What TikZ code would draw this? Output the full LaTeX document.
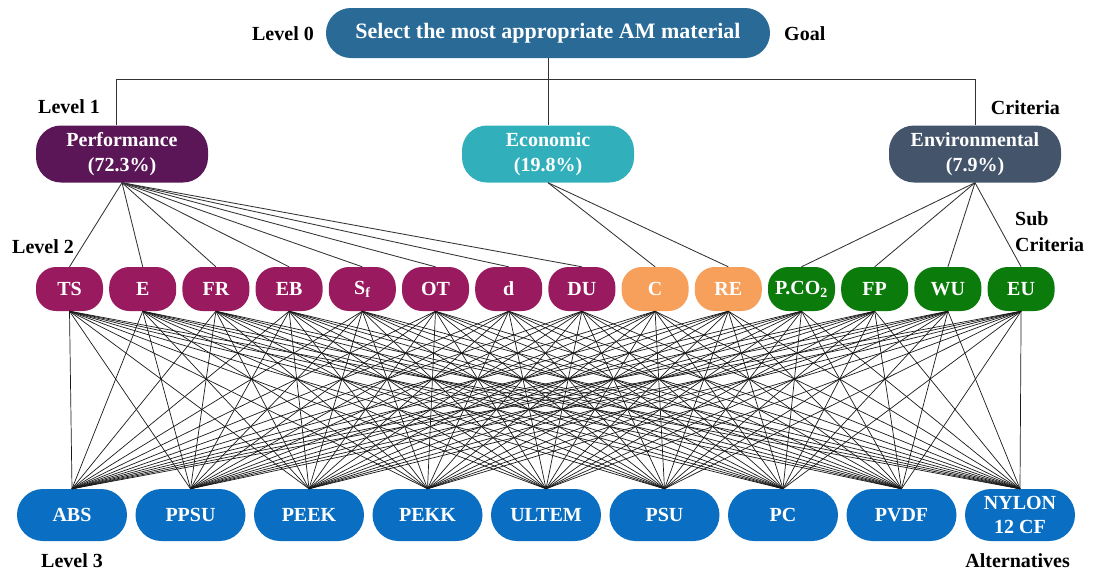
\documentclass[tikz,border=0pt]{standalone}
\usepackage{fontspec}
\setmainfont{Liberation Serif}
\definecolor{goalblue}{HTML}{2A6A97}
\definecolor{perfpurple}{HTML}{5B1657}
\definecolor{econteal}{HTML}{31B0BC}
\definecolor{envslate}{HTML}{44546A}
\definecolor{subpurple}{HTML}{991A5E}
\definecolor{suborange}{HTML}{F6A05C}
\definecolor{subgreen}{HTML}{0B7B0B}
\definecolor{altblue}{HTML}{0A6FC2}
\begin{document}
\begin{tikzpicture}[x=1pt,y=-1pt,
  box/.style={fill=#1, text=white, font=\bfseries\fontsize{20}{25}\selectfont, inner sep=0pt, align=center},
  crit/.style={box=#1, minimum width=172pt, minimum height=57pt, rounded corners=25pt},
  subnode/.style={box=#1, minimum width=67pt, minimum height=44pt, rounded corners=20pt},
  altnode/.style={box=altblue, minimum width=110pt, minimum height=52pt, rounded corners=25.9pt, font=\bfseries\fontsize{20}{24}\selectfont},
  lbl/.style={font=\bfseries\fontsize{20}{26}\selectfont, inner sep=0pt, align=left},
  conn/.style={draw=black!80, line width=0.85pt},
  mesh/.style={draw=black!90, line width=0.7pt}]
\useasboundingbox (0,0) rectangle (1095,571);

% Level 0
\node[box=goalblue, minimum width=444pt, minimum height=50pt, rounded corners=24.9pt,
      font=\bfseries\fontsize{22}{26}\selectfont] (goal) at (548,33) {Select the most appropriate AM material};

% Level 1
\node[crit=perfpurple] (perf) at (122,154) {Performance\\(72.3\%)};
\node[crit=econteal] (econ) at (548,154) {Economic\\(19.8\%)};
\node[crit=envslate] (env) at (975,154) {Environmental\\(7.9\%)};

% Level 2
\foreach \lab/\col [count=\i] in {TS/subpurple, E/subpurple, FR/subpurple, EB/subpurple,
    S\textsubscript{f}/subpurple, OT/subpurple, d/subpurple, DU/subpurple,
    C/suborange, RE/suborange,
    P.CO\textsubscript{2}/subgreen, FP/subgreen, WU/subgreen, EU/subgreen}
  \node[subnode=\col] (s\i) at ({69.5+73.2*(\i-1)},289) {\lab};

% Level 3
\foreach \lab [count=\j] in {ABS,PPSU,PEEK,PEKK,ULTEM,PSU,PC,PVDF,{NYLON\\12 CF}}
  \node[altnode] (a\j) at ({72+118.5*(\j-1)},515) {\lab};

% Goal to criteria
\coordinate (barL) at (116,79);
\coordinate (barR) at (975,79);
\draw[conn] (goal.south) -- (econ.north);
\draw[conn] (perf.north -| barL) -- (barL) -- (barR) -- (env.north);

% Criteria to sub-criteria
\foreach \i in {1,...,8} \draw[conn] (perf.south) -- (s\i.north);
\foreach \i in {9,10} \draw[conn] (econ.south) -- (s\i.north);
\foreach \i in {11,...,14} \draw[conn] (env.south) -- (s\i.north);

% Sub-criteria to alternatives
\foreach \i in {1,...,14}
  \foreach \j in {1,...,9}
    \draw[mesh] (s\i.south) -- (a\j.north);

% Labels
\node[lbl, anchor=east] (l0) at (314,34) {Level 0};
\node[lbl, anchor=west] (goallbl) at (784,34) {Goal};
\node[lbl, anchor=west] (l1) at (38,107) {Level 1};
\node[lbl, anchor=east] (critlbl) at (1060,108) {Criteria};
\node[lbl, anchor=west] (l2) at (12,247) {Level 2};
\node[lbl, anchor=west] (sublbl) at (1015,232) {Sub\\Criteria};
\node[lbl, anchor=west] (l3) at (41,561) {Level 3};
\node[lbl, anchor=east] (altlbl) at (1070,561) {Alternatives};
\end{tikzpicture}
\end{document}
